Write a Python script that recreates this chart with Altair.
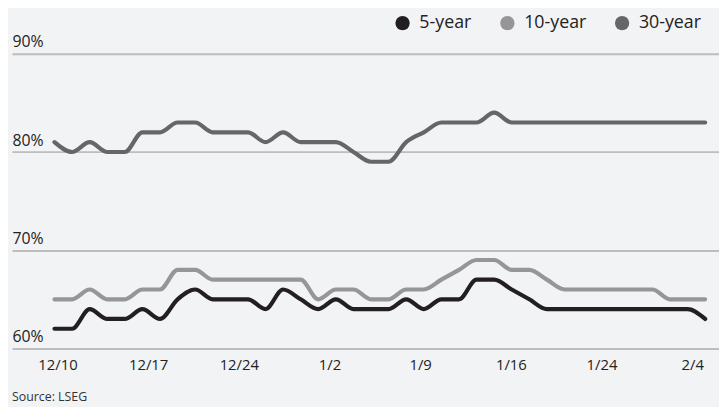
import altair as alt
import pandas as pd

# ---- data ----
day = list(range(38))
five_year = [62, 62, 64, 63, 63, 64, 63, 65, 66, 65,
             65, 65, 64, 66, 65, 64, 65, 64, 64, 64,
             65, 64, 65, 65, 67, 67, 66, 65, 64, 64,
             64, 64, 64, 64, 64, 64, 64, 63]
ten_year = [65, 65, 66, 65, 65, 66, 66, 68, 68, 67,
            67, 67, 67, 67, 67, 65, 66, 66, 65, 65,
            66, 66, 67, 68, 69, 69, 68, 68, 67, 66,
            66, 66, 66, 66, 66, 65, 65, 65]
thirty_year = [81, 80, 81, 80, 80, 82, 82, 83, 83, 82,
               82, 82, 81, 82, 81, 81, 81, 80, 79, 79,
               81, 82, 83, 83, 83, 84, 83, 83, 83, 83,
               83, 83, 83, 83, 83, 83, 83, 83]
series_names = ["5-year", "10-year", "30-year"]
series_colors = ["#231f20", "#969698", "#666667"]
tick_labels = ["12/10", "12/17", "12/24", "1/2", "1/9", "1/16", "1/24", "2/4"]
y_ticks = [60, 70, 80, 90]

rows = []
for name, vals in zip(series_names, [five_year, ten_year, thirty_year]):
    for d, v in zip(day, vals):
        rows.append({"day": d, "series": name, "value": v})
df = pd.DataFrame(rows)

# ---- layout ----
W, H = 715, 298
first_px, last_px = 43, 701
per = (last_px - first_px) / (len(day) - 1)
dom = [-first_px / per, (len(day) - 1) + (W - last_px) / per]
label_start = 3 / per
label_step = 91.7 / per
tick_pos = [label_start + label_step * k for k in range(len(tick_labels))]
label_expr = ("[" + ",".join(f"'{t}'" for t in tick_labels) + "]"
              + f"[round((datum.value - {label_start})/{label_step})]")

FONT = "Open Sans"

x_enc = alt.X("day:Q",
              scale=alt.Scale(domain=dom, nice=False, zero=False),
              axis=alt.Axis(values=tick_pos, labelExpr=label_expr, grid=False,
                            domain=False, ticks=False, labelPadding=9,
                            labelFontSize=15, labelColor="#222222", title=None,
                            labelFlush=False, labelOverlap=False))
y_enc = alt.Y("value:Q",
              scale=alt.Scale(domain=[60, 90], nice=False, zero=False),
              axis=alt.Axis(values=y_ticks, labelExpr="datum.value + '%'",
                            grid=True, gridColor="#bdbdbd", gridWidth=2,
                            domain=False, ticks=False, labelAlign="left",
                            labelBaseline="bottom", labelPadding=0,
                            labelOffset=-4, title=None, labelFontSize=16,
                            labelColor="#222222", labelOverlap=False))
color_scale = alt.Scale(domain=series_names, range=series_colors)

lines = alt.Chart(df).mark_line(
    interpolate="monotone", strokeWidth=4.2, strokeCap="round", strokeJoin="round"
).encode(
    x=x_enc, y=y_enc,
    color=alt.Color("series:N", scale=color_scale, legend=None),
)

legend_pts = alt.Chart(df).mark_point(filled=True, opacity=0).encode(
    x=x_enc, y=y_enc,
    color=alt.Color("series:N", scale=color_scale,
                    legend=alt.Legend(
                        title=None, orient="none", legendX=386, legendY=-40,
                        direction="horizontal", symbolType="circle",
                        symbolSize=210, symbolOpacity=1, symbolStrokeWidth=0,
                        labelFontSize=18, labelColor="#222222",
                        labelOffset=8, padding=0)),
)

chart = alt.layer(lines, legend_pts).resolve_legend(color="independent").properties(
    width=W, height=H,
    background="#f2f3f5",
    padding={"left": 4, "top": 44, "right": 0, "bottom": 57},
    autosize="none",
    title=alt.TitleParams("Source: LSEG", orient="bottom", anchor="start",
                          frame="group", fontSize=12.5, fontWeight="normal",
                          color="#333333", offset=19),
).configure(font=FONT).configure_view(stroke=None).configure_legend(columnPadding=27)

chart.save("out.html", embed_options={"renderer": "svg", "actions": False})
